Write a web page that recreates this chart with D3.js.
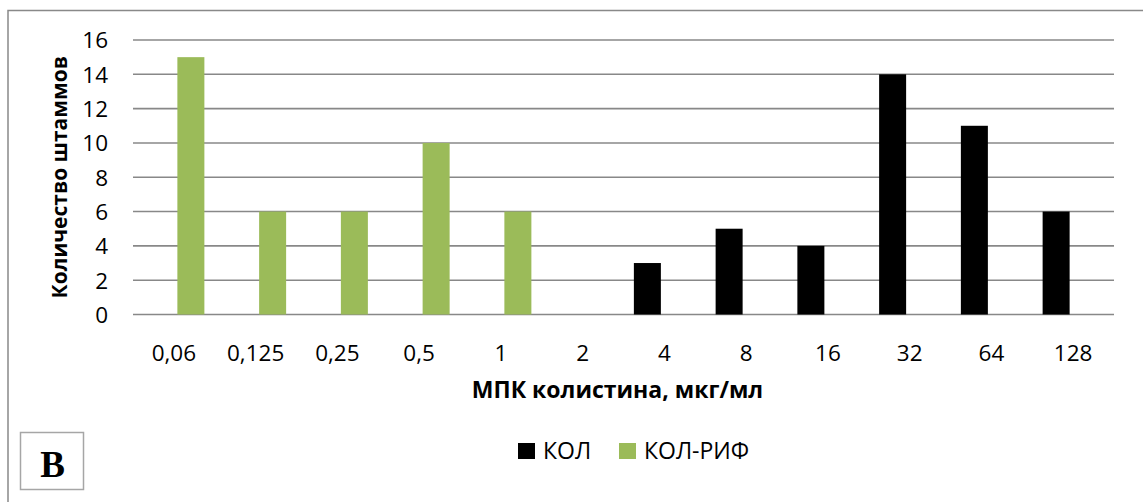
<!DOCTYPE html>
<html><head><meta charset="utf-8">
<script src="https://cdn.jsdelivr.net/npm/d3@7"></script>
<style>body{margin:0;background:#fff}svg{display:block}</style>
</head><body>
<svg id="c" width="1143" height="502" font-family="Open Sans, sans-serif"></svg>
<script>
const categories = ["0,06","0,125","0,25","0,5","1","2","4","8","16","32","64","128"];
const seriesNames = ["КОЛ","КОЛ-РИФ"];
const kol    = [0,0,0,0,0,0,3,5,4,14,11,6];
const kolRif = [15,6,6,10,6,0,0,0,0,0,0,0];
const yTicks = [0,2,4,6,8,10,12,14,16];
const colors = ["#000000","#9BBB59"];

const svg = d3.select("#c");
const M = {left:133, right:1114, top:40, bottom:314.5};

// outer frame (left and top edges visible)
svg.append("path").attr("d","M8,502 L8,10.5 L1143,10.5").attr("fill","none").attr("stroke","#898989").attr("stroke-width",1.5);

const x0 = d3.scaleBand().domain(categories).range([M.left, M.right]);
const cw = x0.bandwidth();
const x1 = d3.scaleBand().domain(seriesNames).range([cw/2-30.5, cw/2+30.5]).paddingInner(7/34);
const y = d3.scaleLinear().domain([0,16]).range([M.bottom, M.top]);

// gridlines
svg.append("g").selectAll("line").data(yTicks).join("line")
  .attr("x1",M.left).attr("x2",M.right)
  .attr("y1",d=>y(d)).attr("y2",d=>y(d))
  .attr("stroke","#888").attr("stroke-width",1.6);

// y axis labels
const yAxis = d3.axisLeft(y).tickValues(yTicks).tickSize(0).tickPadding(0);
const gy = svg.append("g").attr("transform",`translate(108,0)`).call(yAxis);
gy.select(".domain").remove();
gy.attr("font-family","Open Sans, sans-serif");
gy.selectAll("text").attr("font-size",22.5).attr("fill","#000").attr("dy","0.35em");

// x axis labels
const xAxis = d3.axisBottom(x0).tickSize(0).tickPadding(0);
const gx = svg.append("g").attr("transform",`translate(0,${M.bottom})`).call(xAxis);
gx.select(".domain").remove();
gx.attr("font-family","Open Sans, sans-serif");
gx.selectAll("text").attr("font-size",22.5).attr("fill","#000").attr("y",46).attr("dy",0);

// bars
const data = [kol, kolRif];
seriesNames.forEach((s,si)=>{
  svg.append("g").selectAll("rect").data(data[si].map((v,i)=>({c:categories[i],v})).filter(d=>d.v>0)).join("rect")
    .attr("x",d=>x0(d.c)+x1(s)).attr("width",x1.bandwidth())
    .attr("y",d=>y(d.v)).attr("height",d=>y(0)-y(d.v))
    .attr("fill",colors[si]);
});

// axis titles
svg.append("text").attr("transform",`translate(67,${(M.top+M.bottom)/2}) rotate(-90)`)
  .attr("text-anchor","middle").attr("font-weight","bold").attr("font-size",21).text("Количество штаммов");
svg.append("text").attr("x",(M.left+M.right)/2-6).attr("y",398).attr("text-anchor","middle")
  .attr("font-weight","bold").attr("font-size",23).text("МПК колистина, мкг/мл");

// legend
const lg = svg.append("g");
const legX = [518, 619];
seriesNames.forEach((s,i)=>{
  lg.append("rect").attr("x",legX[i]).attr("y",443).attr("width",17).attr("height",16).attr("fill",colors[i]);
  lg.append("text").attr("x",legX[i]+25).attr("y",459).attr("font-size",23).text(s);
});

// panel label box
svg.append("rect").attr("x",20.5).attr("y",432.5).attr("width",63).attr("height",57).attr("fill","#fff").attr("stroke","#a6a6a6").attr("stroke-width",1.5);
svg.append("text").attr("x",52.5).attr("y",477).attr("text-anchor","middle").attr("font-family","Liberation Serif, serif").attr("font-weight","bold").attr("font-size",37).text("В");
</script>
</body></html>
